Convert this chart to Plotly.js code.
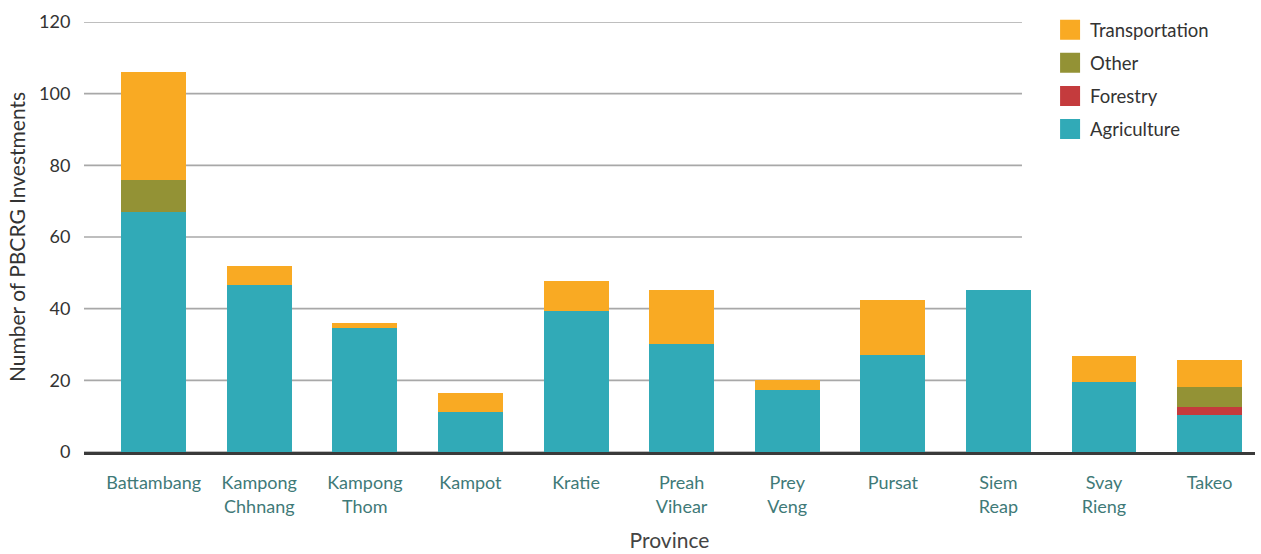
<!DOCTYPE html>
<html>
<head>
<meta charset="utf-8">
<script src="https://cdn.plot.ly/plotly-3.0.1.min.js"></script>
<style>html,body{margin:0;padding:0;background:#fff;}#chart{width:1261px;height:554px;}</style>
</head>
<body>
<div id="chart"></div>
<script>
const provinces = ["Battambang", "Kampong<br>Chhnang", "Kampong<br>Thom", "Kampot", "Kratie", "Preah<br>Vihear", "Prey<br>Veng", "Pursat", "Siem<br>Reap", "Svay<br>Rieng", "Takeo"];
const agriculture = [67, 46.5, 34.5, 11.3, 39.4, 30.2, 17.3, 27.2, 45.3, 19.5, 10.4];
const forestry = [0, 0, 0, 0, 0, 0, 0, 0, 0, 0, 2.2];
const other = [9, 0, 0, 0, 0, 0, 0, 0, 0, 0, 5.6];
const transportation = [30, 5.3, 1.4, 5.3, 8.2, 15.1, 2.8, 15.3, 0, 7.4, 7.5];
const yTicks = [0, 20, 40, 60, 80, 100, 120];

const colors = {Agriculture: "#31aab7", Forestry: "#c43b3d", Other: "#939235", Transportation: "#f9aa23"};
const FONT = "Lato, 'Open Sans', sans-serif";

function trace(name, vals, rank) {
  return {type: "bar", name: name, legendgroup: name, legendrank: rank, x: provinces, y: vals,
    marker: {color: colors[name], line: {width: 0}}, hoverinfo: "x+y+name"};
}
const data = [
  trace("Agriculture", agriculture, 4),
  trace("Forestry", forestry, 3),
  trace("Other", other, 2),
  trace("Transportation", transportation, 1)
];

const gridShapes = yTicks.map(v => ({
  type: "line", xref: "paper", yref: "y", x0: 0, x1: 0.801, y0: v, y1: v,
  line: {color: "#a8a8a8", width: 1.6}, layer: "below"
}));

const layout = {
  width: 1261, height: 554,
  margin: {l: 84, r: 6, t: 22, b: 102},
  paper_bgcolor: "#fff", plot_bgcolor: "#fff",
  barmode: "stack", bargap: 0.385,
  font: {family: FONT, color: "#333", size: 18},
  xaxis: {
    type: "category", range: [-0.66, 10.43],
    showgrid: false, showline: true, linecolor: "#3a3a3a", linewidth: 2.5,
    ticks: "outside", ticklen: 13, tickcolor: "rgba(0,0,0,0)",
    tickfont: {family: FONT, size: 18, color: "#3f7a78"},
    title: {text: "Province", font: {family: FONT, size: 21, color: "#444"}, standoff: 18},
    fixedrange: true
  },
  yaxis: {
    range: [0, 120], tickvals: yTicks, showgrid: false, zeroline: false,
    ticks: "outside", ticklen: 9, tickcolor: "rgba(0,0,0,0)",
    tickfont: {family: FONT, size: 18, color: "#333"},
    title: {text: "Number of PBCRG Investments", font: {family: FONT, size: 21, color: "#333"}, standoff: 7},
    fixedrange: true
  },
  shapes: gridShapes,
  legend: {
    x: 0.825, y: 1.025, xanchor: "left", yanchor: "top",
    traceorder: "grouped", tracegroupgap: 6,
    font: {family: FONT, size: 18.5, color: "#333"},
    bgcolor: "rgba(0,0,0,0)", itemclick: false, itemdoubleclick: false
  },
  showlegend: true
};

Plotly.newPlot("chart", data, layout, {displayModeBar: false, staticPlot: true}).then(() => {
  document.querySelectorAll(".legend .legendpoints path").forEach(p => {
    p.setAttribute("d", "M10,10H-10V-10H10Z");
  });
});
</script>
</body>
</html>
